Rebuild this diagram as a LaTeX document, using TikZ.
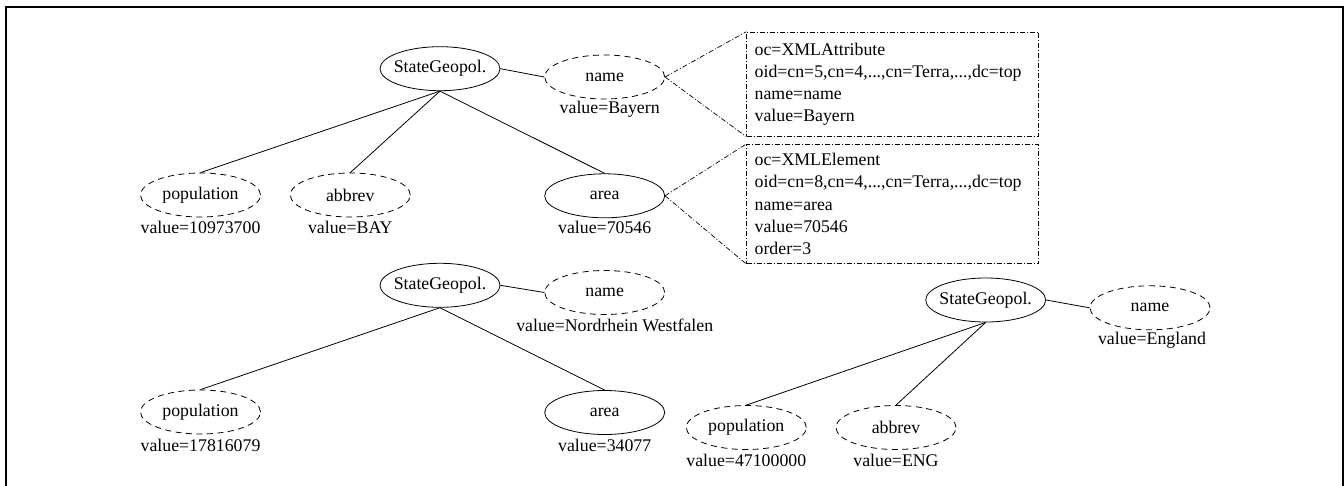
\documentclass[tikz,border=0pt]{standalone}
\usepackage{fontspec}
\setmainfont{Liberation Serif}
\usetikzlibrary{shapes.geometric}
\begin{document}
\begin{tikzpicture}[x=1pt, y=-1pt,
  every node/.style={font=\fontsize{17.8}{22.3}\selectfont},
  obj/.style={ellipse, draw, line width=0.8pt, minimum width=120pt, minimum height=44pt, inner sep=0pt},
  sgbox/.style={obj, inner xsep=-7pt},
  attr/.style={obj, dash pattern=on 6pt off 4.5pt},
  val/.style={anchor=base, inner sep=0pt},
  edge/.style={line width=0.8pt},
  zoomline/.style={line width=0.7pt, dash pattern=on 5pt off 2pt on 1pt off 2pt},
  infobox/.style={draw, zoomline, anchor=north west, align=left, text width=276pt,
    inner xsep=8pt, inner ysep=0pt, minimum width=292pt}
]
\useasboundingbox (0,0) rectangle (1344,485);
\clip (0,0) rectangle (1344,485);

% outer frame, open at the bottom
\draw[line width=2pt] (6,500) -- (6,6.7) -- (1342.7,6.7) -- (1342.7,500);

% ---- Bayern ----
\node[sgbox] (sg1) at (440,68.7) {StateGeopol.};
\node[attr] (name1) at (604.7,77) {name};
\node[attr] (pop1) at (200.5,195) {population};
\node[attr] (abb1) at (350.3,195) {abbrev};
\node[obj] (area1) at (604.7,195.8) {area};
\node[val] (name1v) at ([xshift=5pt,yshift=-36.5pt]name1.center) {value=Bayern};
\node[val] (pop1v) at ([yshift=-38.5pt]pop1.center) {value=10973700};
\node[val] (abb1v) at ([yshift=-38.5pt]abb1.center) {value=BAY};
\node[val] (area1v) at ([yshift=-38pt]area1.center) {value=70546};
\draw[edge] (sg1.east) -- (name1.west);
\draw[edge] (sg1.south) -- (pop1.north);
\draw[edge] (sg1.south) -- (abb1.north);
\draw[edge] (sg1.south) -- (area1.north);

\node[infobox, minimum height=104.3pt] (box1) at (746.3,31.7)
  {oc=XMLAttribute\\oid=cn=5,cn=4,...,cn=Terra,...,dc=top\\name=name\\value=Bayern};
\node[infobox, minimum height=119.3pt] (box2) at (746.3,144)
  {oc=XMLElement\\oid=cn=8,cn=4,...,cn=Terra,...,dc=top\\name=area\\value=70546\\order=3};
\draw[zoomline] (name1.east) -- (box1.north west);
\draw[zoomline] (name1.east) -- (box1.south west);
\draw[zoomline] (area1.east) -- (box2.north west);
\draw[zoomline] (area1.east) -- (box2.south west);

% ---- Nordrhein Westfalen ----
\node[sgbox] (sg2) at (440,285.3) {StateGeopol.};
\node[attr] (name2) at (604.7,292.5) {name};
\node[attr] (pop2) at (200.5,412) {population};
\node[obj] (area2) at (604.7,412.5) {area};
\node[val] (name2v) at ([xshift=10pt,yshift=-38.5pt]name2.center) {value=Nordrhein Westfalen};
\node[val] (pop2v) at ([yshift=-39pt]pop2.center) {value=17816079};
\node[val] (area2v) at ([yshift=-38.5pt]area2.center) {value=34077};
\draw[edge] (sg2.east) -- (name2.west);
\draw[edge] (sg2.south) -- (pop2.north);
\draw[edge] (sg2.south) -- (area2.north);

% ---- England ----
\node[sgbox] (sg3) at (985.7,300) {StateGeopol.};
\node[attr] (name3) at (1150,307.8) {name};
\node[attr] (pop3) at (746.3,427.5) {population};
\node[attr] (abb3) at (896,427.5) {abbrev};
\node[val] (name3v) at ([xshift=2pt,yshift=-36.5pt]name3.center) {value=England};
\node[val] (pop3v) at ([yshift=-38.5pt]pop3.center) {value=47100000};
\node[val] (abb3v) at ([yshift=-38.5pt]abb3.center) {value=ENG};
\draw[edge] (sg3.east) -- (name3.west);
\draw[edge] (sg3.south) -- (pop3.north);
\draw[edge] (sg3.south) -- (abb3.north);
\end{tikzpicture}
\end{document}
